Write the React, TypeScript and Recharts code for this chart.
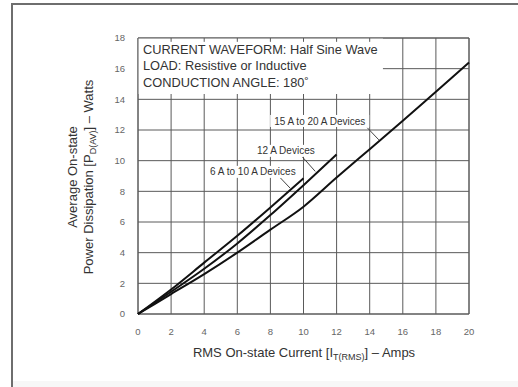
import React from 'react';
import {LineChart, Line, XAxis, YAxis, CartesianGrid, ReferenceArea, ReferenceLine, ReferenceDot} from 'recharts';

// RMS current (A) and average power dissipation (W) for each device group
const xSmall = [0, 2, 4, 6, 8, 10];
const ySmall = [0, 1.6, 3.35, 5.1, 6.95, 8.85];

const xMid = [0, 2, 4, 6, 8, 10, 12];
const yMid = [0, 1.45, 2.95, 4.6, 6.45, 8.4, 10.4];

const xLarge = [0, 2, 4, 6, 8, 10, 12, 14, 16, 18, 20];
const yLarge = [0, 1.3, 2.6, 4.0, 5.5, 7.0, 8.9, 10.75, 12.6, 14.5, 16.4];

const xTicks = [0, 2, 4, 6, 8, 10, 12, 14, 16, 18, 20];
const yTicks = [0, 2, 4, 6, 8, 10, 12, 14, 16, 18];
const topTicks = [2, 4, 6, 8, 10, 12, 14];

const annotationLines = [
    'CURRENT WAVEFORM: Half Sine Wave',
    'LOAD: Resistive or Inductive',
    'CONDUCTION ANGLE: 180˚',
];

// curve labels: text, label anchor, leader line start/end
const curveLabels = [
    {text: '15 A to 20 A Devices', x: 10.98, y: 12.59, from: [13.86, 12.14], to: [14.55, 11.36]},
    {text: '12 A Devices', x: 8.93, y: 10.64, from: [9.93, 10.25], to: [10.71, 9.3]},
    {text: '6 A to 10 A Devices', x: 6.94, y: 9.27, from: [8.6, 8.88], to: [9.2, 8.2]},
];

const FONT = '"Liberation Sans", Arial, Helvetica, sans-serif';
const GRID = '#5a5a5a';

const toPoints = (xs: number[], ys: number[]) => xs.map((x, i) => ({x, y: ys[i]}));

function BoxText(props: any) {
    const vb = props.viewBox || {};
    const left = (vb.x ?? 138) + 5;
    const top = vb.y ?? 38;
    return (
        <text fontFamily={FONT} fontSize={12.8} fill="#333">
            {annotationLines.map((line, i) => (
                <tspan key={i} x={left} y={top + 16 + i * 16.4}>{line}</tspan>
            ))}
        </text>
    );
}

// curve label with a white backing so the grid breaks behind it
function CurveLabel(props: any) {
    const vb = props.viewBox || {};
    const cx = (vb.x ?? 0) + (vb.width ?? 0) / 2;
    const cy = (vb.y ?? 0) + (vb.height ?? 0) / 2;
    const w = props.text.length * 4.75 + 4;
    return (
        <g>
            <rect x={cx - w / 2} y={cy - 6} width={w} height={12} fill="#fff"/>
            <text x={cx} y={cy + 3.6} textAnchor="middle" fontFamily={FONT} fontSize={10} fill="#333">
                {props.text}
            </text>
        </g>
    );
}

function XTitle() {
    return (
        <text x={304} y={357} textAnchor="middle" fontFamily={FONT} fontSize={13} fill="#333">
            RMS On-state Current [I
            <tspan fontSize={9} dy={3}>T(RMS)</tspan>
            <tspan dy={-3}>] – Amps</tspan>
        </text>
    );
}

function YTitle() {
    return (
        <g fontFamily={FONT} fontSize={13} fill="#333">
            <text x={77} y={177} textAnchor="middle" transform="rotate(-90 77 177)">
                Average On-state
            </text>
            <text x={93} y={177} textAnchor="middle" transform="rotate(-90 93 177)">
                Power Dissipation [P
                <tspan fontSize={9} dy={3}>D(AV)</tspan>
                <tspan dy={-3}>] – Watts</tspan>
            </text>
        </g>
    );
}

export default function App() {
    const tickStyle = {fontSize: 9.5, fill: '#666', fontFamily: FONT};
    return (
        <div style={{position: 'absolute', left: 0, top: 0, width: 518, height: 387, background: '#fff', overflow: 'hidden'}}>
            <div style={{position: 'absolute', left: 11, top: 3, right: 0, bottom: 0, borderLeft: '2px solid #6e6e6e', borderTop: '2px solid #6e6e6e'}}/>
            <div style={{position: 'absolute', left: 13, top: 381, right: 0, bottom: 0, background: '#f7f7f7'}}/>
            <div style={{position: 'absolute', left: 0, top: 0}}>
                <LineChart width={518} height={387} margin={{top: 38, right: 49, bottom: 43, left: 0}}>
                    <CartesianGrid stroke={GRID} strokeWidth={1}/>
                    <XAxis
                        type="number"
                        dataKey="x"
                        domain={[0, 20]}
                        ticks={xTicks}
                        height={30}
                        axisLine={false}
                        tickLine={false}
                        tickSize={0}
                        tickMargin={14}
                        tick={tickStyle}
                        label={<XTitle/>}
                    />
                    <YAxis
                        type="number"
                        domain={[0, 18]}
                        ticks={yTicks}
                        width={138}
                        axisLine={false}
                        tickLine={false}
                        tickSize={0}
                        tickMargin={13}
                        tick={tickStyle}
                        label={<YTitle/>}
                    />
                    <ReferenceArea x1={0} x2={14.8} y1={14.35} y2={18} fill="#fff" fillOpacity={1} stroke="none" label={<BoxText/>}/>
                    <ReferenceArea x1={0} x2={20} y1={0} y2={18} fill="none" stroke={GRID} strokeWidth={1}/>
                    {topTicks.map(t => (
                        <ReferenceLine key={t} segment={[{x: t, y: 18}, {x: t, y: 17.75}]} stroke={GRID}/>
                    ))}
                    {curveLabels.map(c => (
                        <ReferenceDot
                            key={c.text + '-dot'}
                            x={c.x}
                            y={c.y}
                            r={0}
                            fill="none"
                            stroke="none"
                            label={<CurveLabel text={c.text}/>}
                        />
                    ))}
                    {curveLabels.map(c => (
                        <ReferenceLine key={c.text} segment={[{x: c.from[0], y: c.from[1]}, {x: c.to[0], y: c.to[1]}]} stroke="#444" strokeWidth={1}/>
                    ))}
                    <Line data={toPoints(xLarge, yLarge)} dataKey="y" type="monotone" stroke="#111" strokeWidth={2} dot={false} isAnimationActive={false}/>
                    <Line data={toPoints(xMid, yMid)} dataKey="y" type="monotone" stroke="#111" strokeWidth={2} dot={false} isAnimationActive={false}/>
                    <Line data={toPoints(xSmall, ySmall)} dataKey="y" type="monotone" stroke="#111" strokeWidth={2} dot={false} isAnimationActive={false}/>
                </LineChart>
            </div>
        </div>
    );
}
